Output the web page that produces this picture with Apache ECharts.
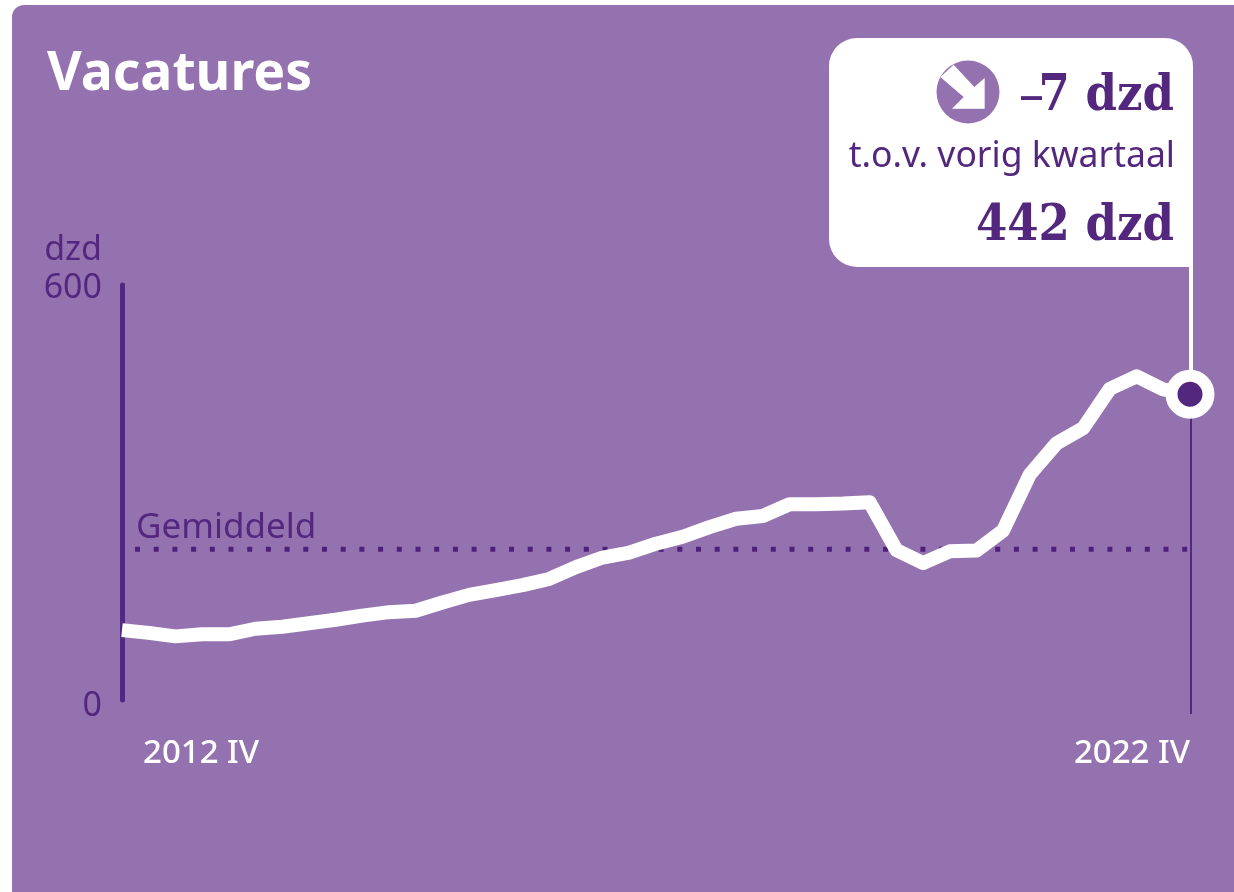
<!DOCTYPE html>
<html>
<head>
<meta charset="utf-8">
<title>Vacatures</title>
<script src="https://cdn.jsdelivr.net/npm/echarts@6/dist/echarts.min.js"></script>
<style>
  html, body { margin: 0; padding: 0; background: #fff; }
  #main { width: 1234px; height: 892px; }
</style>
</head>
<body>
<div id="main"></div>
<script>
// kwartalen 2012 IV t/m 2022 IV
const quarters = ['2012 IV',
  '2013 I', '2013 II', '2013 III', '2013 IV',
  '2014 I', '2014 II', '2014 III', '2014 IV',
  '2015 I', '2015 II', '2015 III', '2015 IV',
  '2016 I', '2016 II', '2016 III', '2016 IV',
  '2017 I', '2017 II', '2017 III', '2017 IV',
  '2018 I', '2018 II', '2018 III', '2018 IV',
  '2019 I', '2019 II', '2019 III', '2019 IV',
  '2020 I', '2020 II', '2020 III', '2020 IV',
  '2021 I', '2021 II', '2021 III', '2021 IV',
  '2022 I', '2022 II', '2022 III', '2022 IV']
// vacatures x 1000
const vacancies = [101, 97, 92, 95, 95, 103, 106, 111, 116, 122, 127, 129, 141,
  152, 159, 166, 175, 192, 206, 213, 226, 236, 250, 262, 266, 283, 283, 284, 286,
  217, 198, 215, 216, 245, 326, 371, 393, 450, 468, 449, 442]
const gemiddeld = 218
const gemiddeldLine = quarters.map(() => gemiddeld)
const yTicks = [0, 600]
const xTicks = [0, 40]

const purple = '#9472b0'
const dark = '#54277f'
const sans = '"Noto Sans", sans-serif'
const slab = '"DejaVu Serif Condensed", "DejaVu Serif", serif'

const myChart = echarts.init(document.getElementById('main'))
const lastIndex = vacancies.length - 1

const option = {
  animation: false,
  backgroundColor: '#fff',
  grid: { left: 122, right: 44, top: 285, bottom: 192 },
  xAxis: {
    type: 'category',
    boundaryGap: false,
    data: quarters,
    axisLine: { show: false },
    axisTick: { show: false },
    splitLine: { show: false },
    axisLabel: {
      customValues: xTicks,
      alignMinLabel: 'left',
      alignMaxLabel: 'right',
      margin: 37,
      color: '#fff',
      fontFamily: sans,
      fontSize: 33,
      fontWeight: 500,
      formatter: function (value) {
        return value === quarters[0] ? '{first|' + value + '}' : value
      },
      rich: {
        first: { color: '#fff', fontFamily: sans, fontSize: 33, fontWeight: 500, padding: [0, 0, 0, 21] }
      }
    }
  },
  yAxis: {
    type: 'value',
    min: yTicks[0],
    max: yTicks[1],
    interval: 600,
    name: 'dzd',
    nameLocation: 'end',
    nameGap: 18,
    nameTextStyle: { color: dark, fontFamily: sans, fontSize: 34, align: 'right', padding: [0, 20, 0, 0] },
    axisLine: { show: true, lineStyle: { color: '#4f2a80', width: 5 } },
    axisTick: { show: false },
    splitLine: { show: false },
    axisLabel: {
      color: dark,
      fontFamily: sans,
      fontSize: 34,
      margin: 20,
      formatter: function (value) {
        return value === 0 ? '{zero|0}' : '{top|' + value + '}'
      },
      rich: {
        zero: { color: dark, fontFamily: sans, fontSize: 34, padding: [12, 0, 0, 0] },
        top: { color: dark, fontFamily: sans, fontSize: 34, padding: [6, 0, 0, 0] }
      }
    }
  },
  series: [
    {
      name: 'Gemiddeld',
      type: 'line',
      data: gemiddeldLine,
      symbol: 'none',
      silent: true,
      z: 1,
      lineStyle: { color: '#4f2079', width: 5, type: [5, 13.7], dashOffset: 5.7 }
    },
    {
      name: 'Vacatures',
      type: 'line',
      data: vacancies.map(function (v, i) {
        if (i !== lastIndex) return v
        return {
          value: v,
          symbol: 'circle',
          symbolSize: 37,
          itemStyle: { color: dark, borderColor: '#fff', borderWidth: 12 }
        }
      }),
      showSymbol: true,
      showAllSymbol: true,
      symbol: 'none',
      silent: true,
      z: 3,
      lineStyle: { color: '#fff', width: 14, join: 'round' }
    }
  ]
}
myChart.setOption(option)

// callout en verticale lijn hangen aan het laatste punt
const last = myChart.convertToPixel({ seriesIndex: 1 }, [lastIndex, vacancies[lastIndex]])
const arrow = [[50, -42], [50, 50], [-48, 50], [-13, 15], [-83, -45], [-43, -82], [19, -15]]
  .map(p => [968 + p[0] / 3, 92 + p[1] / 3])

myChart.setOption({
  graphic: [
    { type: 'rect', z: -10, shape: { x: 12, y: 5, width: 1222, height: 887, r: [12, 0, 0, 0] }, style: { fill: purple } },
    { type: 'line', z: 0, shape: { x1: last[0] + 1, y1: last[1], x2: last[0] + 1, y2: 714 }, style: { stroke: dark, lineWidth: 2 } },
    { type: 'line', z: 2, shape: { x1: last[0] + 1, y1: 260, x2: last[0] + 1, y2: last[1] }, style: { stroke: '#fff', lineWidth: 4 } },
    { type: 'rect', z: 5, shape: { x: 829, y: 38, width: 364, height: 229, r: [28, 28, 0, 28] }, style: { fill: '#fff' } },
    { type: 'circle', z: 6, shape: { cx: 968, cy: 92, r: 31.5 }, style: { fill: purple } },
    { type: 'polygon', z: 7, shape: { points: arrow }, style: { fill: '#fff' } },
    { type: 'text', z: 8, style: { x: 47, y: 75, text: 'Vacatures', fill: '#fff', font: 'bold 53.5px ' + sans, textAlign: 'left', textVerticalAlign: 'middle' } },
    { type: 'text', z: 8, style: { x: 1174, y: 97, text: '7 dzd', fill: dark, font: 'bold 50px ' + slab, textAlign: 'right', textVerticalAlign: 'middle' } },
    { type: 'text', z: 8, style: { x: 1044, y: 97, text: '\u2013', fill: dark, font: '50px ' + sans, textAlign: 'right', textVerticalAlign: 'middle' } },
    { type: 'text', z: 8, style: { x: 1175, y: 157, text: 't.o.v. vorig kwartaal', fill: dark, font: '35.5px ' + sans, textAlign: 'right', textVerticalAlign: 'middle' } },
    { type: 'text', z: 8, style: { x: 1174, y: 227, text: '442 dzd', fill: dark, font: 'bold 50px ' + slab, textAlign: 'right', textVerticalAlign: 'middle' } },
    { type: 'text', z: 8, style: { x: 136, y: 528, text: 'Gemiddeld', fill: dark, font: '35px ' + sans, textAlign: 'left', textVerticalAlign: 'middle' } }
  ]
})
</script>
</body>
</html>
